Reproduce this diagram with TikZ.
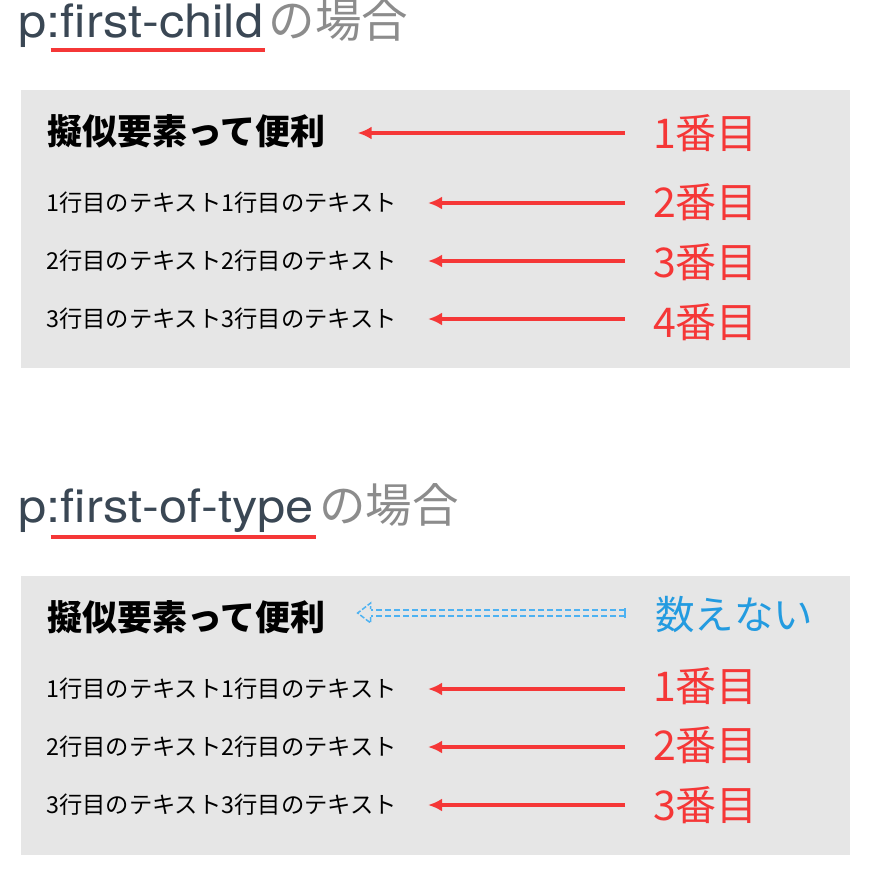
\documentclass[tikz,border=0pt]{standalone}
\usepackage{fontspec}
\setmainfont{Noto Sans CJK JP}
\newfontfamily\latin[FakeStretch=1.1]{TeX Gyre Heros}
\usetikzlibrary{arrows.meta}
\definecolor{boxgray}{HTML}{E6E6E6}
\definecolor{titledark}{HTML}{3A4754}
\definecolor{titlegray}{HTML}{8C8C8C}
\definecolor{myred}{HTML}{F53737}
\definecolor{myblue}{HTML}{239BE0}
\definecolor{arrowblue}{HTML}{4DB2F2}
\tikzset{
  box/.style={fill=boxgray, draw=none},
  tpart/.style={inner sep=0pt, anchor=base west, font=\latin\fontsize{46}{50}\selectfont, text=titledark},
  tjp/.style={inner sep=0pt, anchor=base west, font=\fontsize{46.5}{50}\selectfont, text=titlegray},
  uline/.style={myred, line width=3.5pt},
  boldrow/.style={inner sep=0pt, anchor=west, font=\bfseries\fontsize{35}{40}\selectfont, text=black},
  row/.style={inner sep=0pt, anchor=west, font=\fontsize{23.3}{27}\selectfont, text=black},
  lab/.style={inner sep=0pt, anchor=west, font=\fontsize{41}{46}\selectfont, text=myred},
  blab/.style={inner sep=0pt, anchor=west, font=\fontsize{39.5}{46}\selectfont, text=myblue},
  redarrow/.style={myred, line width=3.6pt, -{Latex[length=14pt,width=13pt]}, shorten <=28pt},
  bluedash/.style={arrowblue, line width=1.5pt, dash pattern=on 6pt off 3pt}
}
\begin{document}
\begin{tikzpicture}[x=1pt,y=-1pt]
\useasboundingbox (0,0) rectangle (894,868);
% ---------- section 1 ----------
\node[tpart] (p1) at (18,37) {p};
\node[tpart] (f1) at (p1.base east) {:first-child};
\node[tjp] (g1) at ([xshift=5pt]f1.base east) {の場合};
\draw[uline] ([xshift=4pt,yshift=-13pt]f1.base west) -- ([xshift=2pt,yshift=-13pt]f1.base east);
\fill[box] (21,90) rectangle (850,368);
\node[boldrow] (a0) at (47,131) {擬似要素って便利};
\node[row] (a1) at (46,203) {1行目のテキスト1行目のテキスト};
\node[row] (a2) at (46,261) {2行目のテキスト2行目のテキスト};
\node[row] (a3) at (46,319) {3行目のテキスト3行目のテキスト};
\node[lab] (l0) at (653,133) {1番目};
\node[lab] (l1) at (653,202) {2番目};
\node[lab] (l2) at (653,262) {3番目};
\node[lab] (l3) at (653,322) {4番目};
\draw[redarrow, shorten >=32pt] (l0.west) -- (l0.west -| a0.east);
\draw[redarrow, shorten >=31pt] (l1.west |- a1.west) -- (a1.east);
\draw[redarrow, shorten >=31pt] (l2.west |- a2.west) -- (a2.east);
\draw[redarrow, shorten >=31pt] (l3.west |- a3.west) -- (a3.east);
% ---------- section 2 ----------
\node[tpart] (p2) at (18,522) {p};
\node[tpart] (f2) at (p2.base east) {:first-of-type};
\node[tjp] (g2) at ([xshift=5pt]f2.base east) {の場合};
\draw[uline] ([xshift=4pt,yshift=-15pt]f2.base west) -- ([xshift=2pt,yshift=-15pt]f2.base east);
\fill[box] (21,576) rectangle (850,855);
\node[boldrow] (b0) at (47,617) {擬似要素って便利};
\node[row] (b1) at (46,689) {1行目のテキスト1行目のテキスト};
\node[row] (b2) at (46,747) {2行目のテキスト2行目のテキスト};
\node[row] (b3) at (46,805) {3行目のテキスト3行目のテキスト};
\node[blab] (m0) at (655,615) {数えない};
\node[lab] (m1) at (653,686) {1番目};
\node[lab] (m2) at (653,745) {2番目};
\node[lab] (m3) at (653,805) {3番目};
% dashed double arrow
\coordinate (bs) at ([xshift=-30pt,yshift=2pt]m0.west);
\coordinate (bt) at ([xshift=32pt]bs -| b0.east);
\draw[bluedash] ([yshift=-3pt]bs) -- ([xshift=13pt,yshift=-3pt]bt);
\draw[bluedash] ([yshift=3pt]bs) -- ([xshift=13pt,yshift=3pt]bt);
\draw[arrowblue, line width=1.5pt] ([yshift=-5pt]bs) -- ([yshift=5pt]bs);
\draw[bluedash, dash pattern=on 5pt off 2pt] ([xshift=13pt,yshift=-4pt]bt) -- ([xshift=13pt,yshift=-10pt]bt) -- (bt) -- ([xshift=13pt,yshift=10pt]bt) -- ([xshift=13pt,yshift=4pt]bt);
\draw[redarrow, shorten >=31pt] (m1.west |- b1.west) -- (b1.east);
\draw[redarrow, shorten >=31pt] (m2.west |- b2.west) -- (b2.east);
\draw[redarrow, shorten >=31pt] (m3.west |- b3.west) -- (b3.east);
\end{tikzpicture}
\end{document}
